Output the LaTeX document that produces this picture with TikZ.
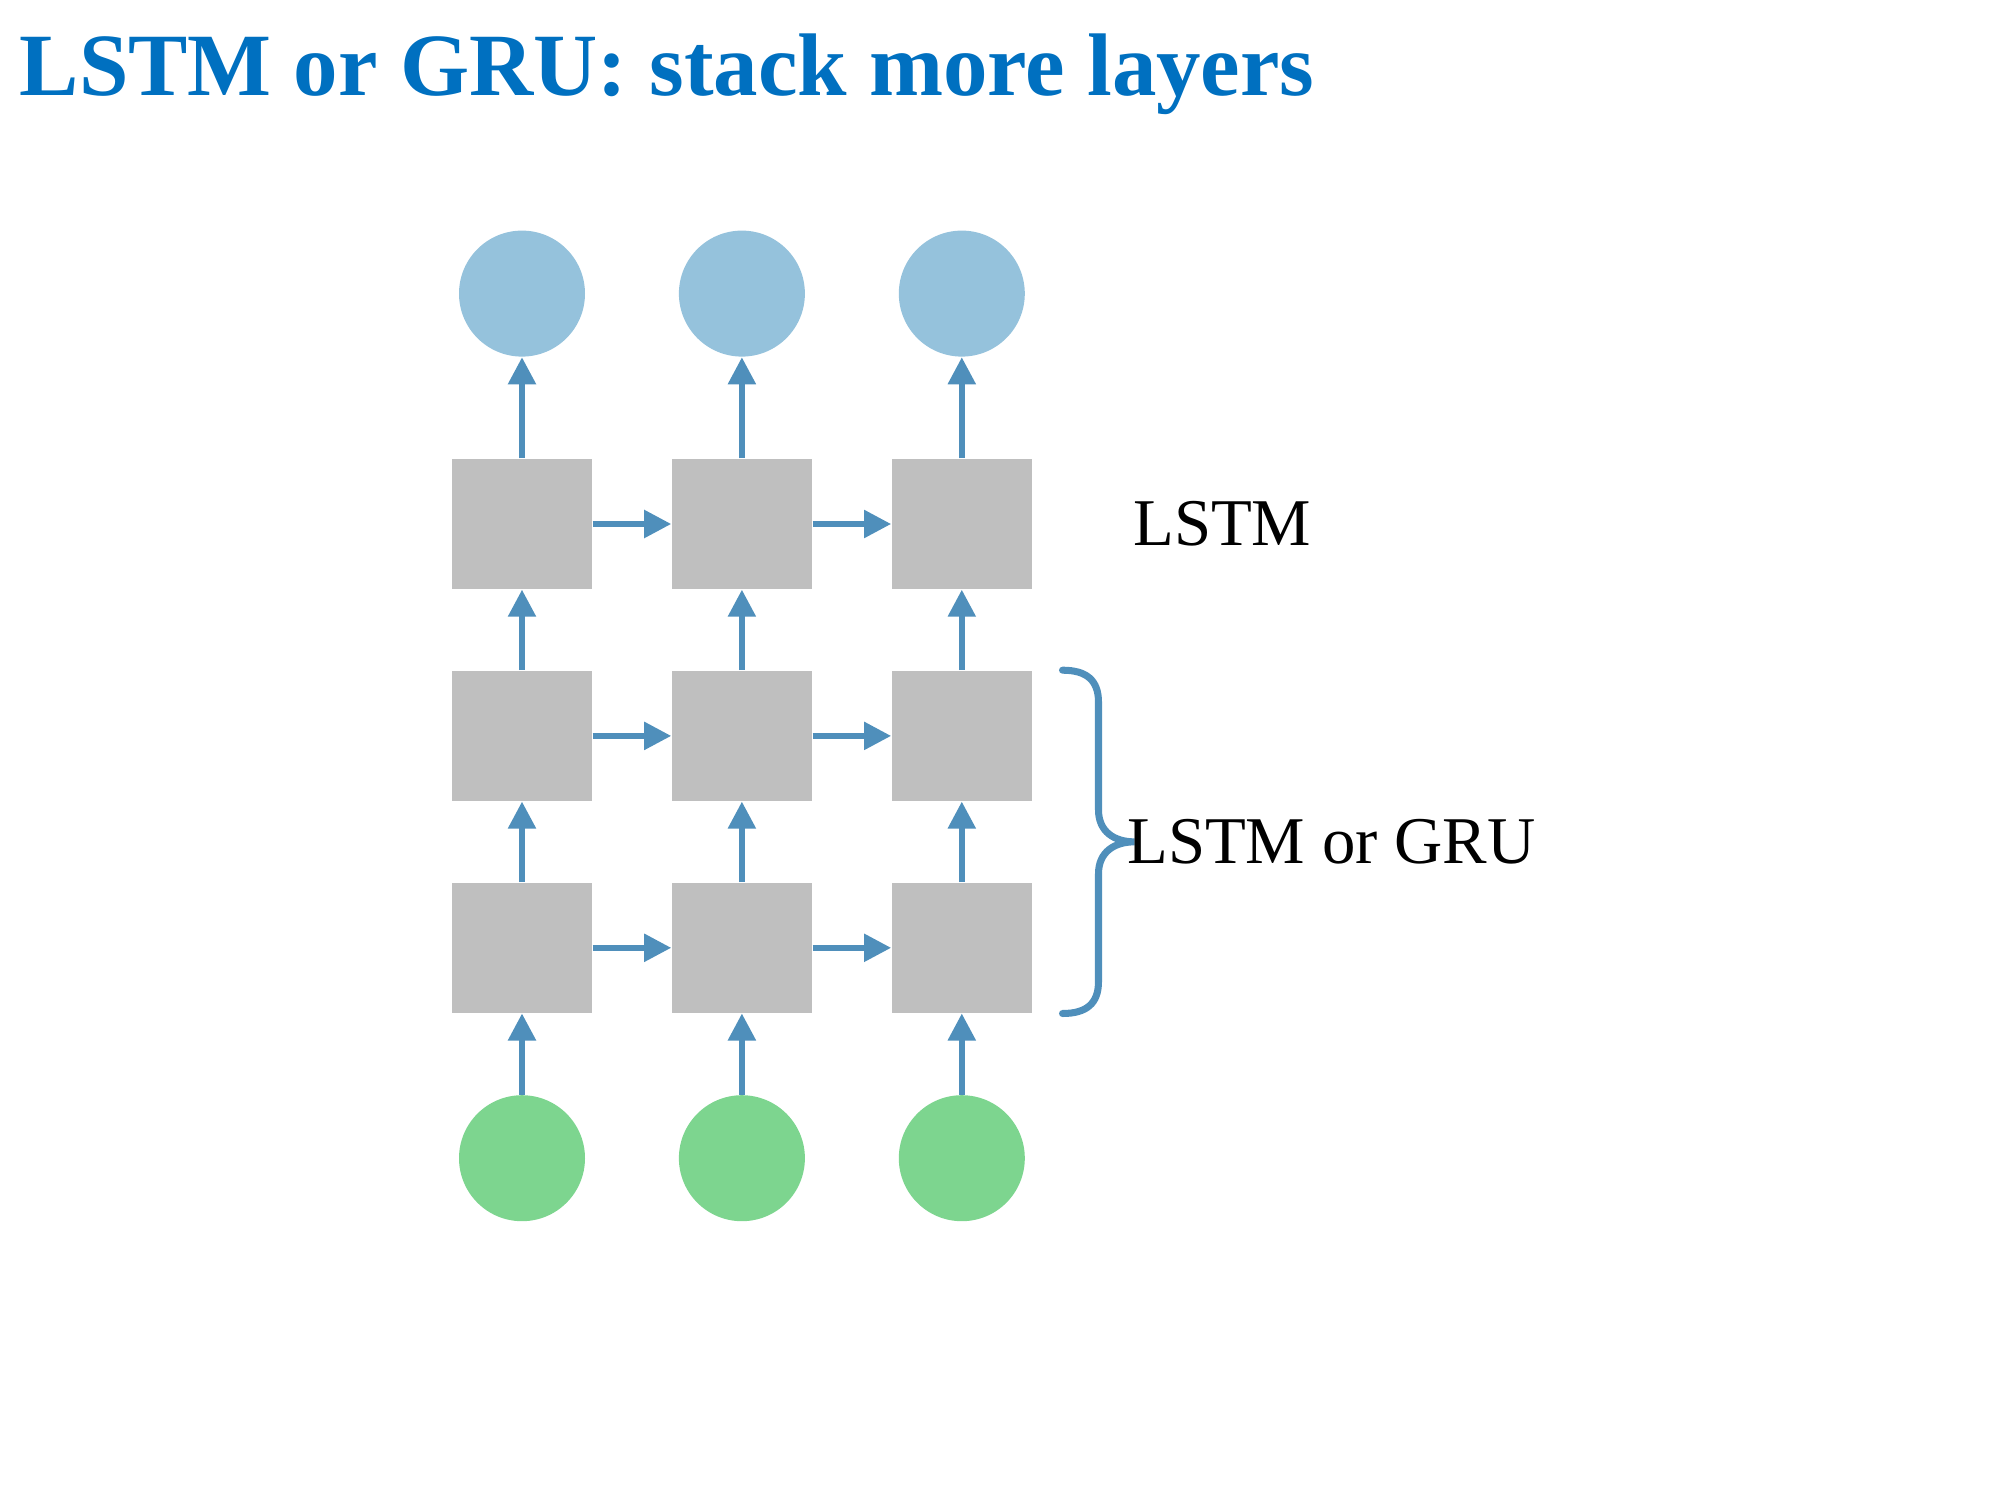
\documentclass[tikz,border=0pt]{standalone}
\usepackage{fontspec}
\setmainfont{Liberation Serif}
\usetikzlibrary{positioning, arrows.meta, calc}

\definecolor{titleblue}{RGB}{0,112,192}
\definecolor{linkblue}{RGB}{79,143,187}
\definecolor{outblue}{RGB}{149,194,220}
\definecolor{ingreen}{RGB}{125,213,143}
\definecolor{cellgray}{RGB}{191,191,191}

\begin{document}
\begin{tikzpicture}[x=0.1mm, y=-0.1mm, node distance=8.05mm and 7.85mm,
    every node/.style={font=\fontsize{19}{23}\selectfont},
    cell/.style={fill=cellgray, minimum width=14mm, minimum height=13mm, inner sep=0},
    outnode/.style={circle, fill=outblue, minimum size=12.6mm, inner sep=0},
    innode/.style={circle, fill=ingreen, minimum size=12.6mm, inner sep=0},
    link/.style={draw=linkblue, line width=1.55pt, -{Triangle[length=2.7mm, width=2.7mm]}},
    bracket/.style={draw=linkblue, line width=2pt, line cap=round}]
        \useasboundingbox (0,0) rectangle (2000,1500);

        % Title
        \node (T) [anchor=base west, inner sep=0, text=titleblue, font=\fontsize{25.3}{30}\selectfont\bfseries] at (19,96) {LSTM or GRU: stack more layers};

        % Cells
        \node[cell] (B11) at (522,524) {};
        \node[cell, right=of B11] (B12) {};
        \node[cell, right=of B12] (B13) {};
        \node[cell, below=of B11] (B21) {};
        \node[cell, right=of B21] (B22) {};
        \node[cell, right=of B22] (B23) {};
        \node[cell, below=of B21] (B31) {};
        \node[cell, right=of B31] (B32) {};
        \node[cell, right=of B32] (B33) {};

        % Outputs and inputs
        \node[outnode, above=10.1mm of B11] (O1) {};
        \node[outnode, above=10.1mm of B12] (O2) {};
        \node[outnode, above=10.1mm of B13] (O3) {};
        \node[innode, below=8.1mm of B31] (X1) {};
        \node[innode, below=8.1mm of B32] (X2) {};
        \node[innode, below=8.1mm of B33] (X3) {};

        % Labels
        \node[inner sep=0, right=10mm of B13] (L1) {LSTM};

        % Upward links
        \draw[link] (X1) -- (B31);
        \draw[link] (X2) -- (B32);
        \draw[link] (X3) -- (B33);
        \draw[link] (B31) -- (B21);
        \draw[link] (B32) -- (B22);
        \draw[link] (B33) -- (B23);
        \draw[link] (B21) -- (B11);
        \draw[link] (B22) -- (B12);
        \draw[link] (B23) -- (B13);
        \draw[link] (B11) -- (O1);
        \draw[link] (B12) -- (O2);
        \draw[link] (B13) -- (O3);

        % Links in time
        \draw[link] (B11) -- (B12);
        \draw[link] (B12) -- (B13);
        \draw[link] (B21) -- (B22);
        \draw[link] (B22) -- (B23);
        \draw[link] (B31) -- (B32);
        \draw[link] (B32) -- (B33);

        % Brace round the lower two layers
        \coordinate (BT) at ([xshift=3mm]B23.north east);
        \coordinate (BB) at ([xshift=3mm]B33.south east);
        \coordinate (BM) at ($(BT)!0.5!(BB)+(72,0)$);
        \draw[bracket] (BT) .. controls +(24,0) and +(0,-22) .. ($(BT)+(36,32)$)
            -- ($(BM)+(-36,-32)$) .. controls +(0,22) and +(-20,0) .. (BM)
            .. controls +(-20,0) and +(0,-22) .. ($(BM)+(-36,32)$)
            -- ($(BB)+(36,-32)$) .. controls +(0,22) and +(24,0) .. (BB);
        \node[inner sep=0, anchor=west] (L2) at ([xshift=-0.8mm]BM) {LSTM or GRU};
    \end{tikzpicture}
\end{document}
